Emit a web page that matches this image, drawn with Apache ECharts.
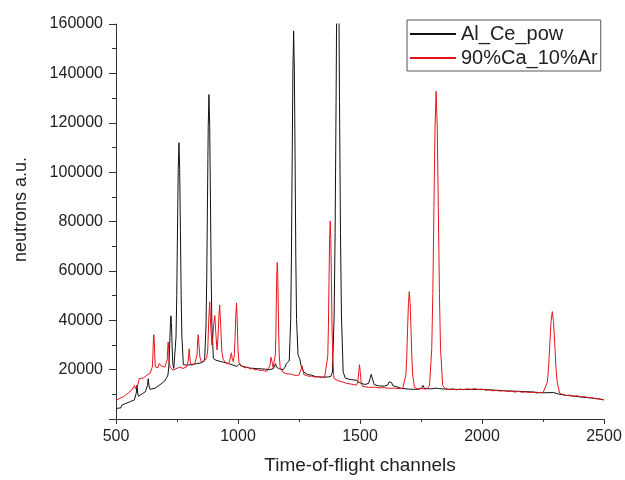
<!DOCTYPE html>
<html>
<head>
<meta charset="utf-8">
<script src="https://cdn.jsdelivr.net/npm/echarts@6/dist/echarts.min.js"></script>
<style>
html,body{margin:0;padding:0;background:#fff;}
#chart{width:625px;height:480px;}
</style>
</head>
<body>
<div id="chart"></div>
<script>
const seriesNames = ['Al_Ce_pow', '90%Ca_10%Ar'];
const xAxisTitle = 'Time-of-flight channels';
const yAxisTitle = 'neutrons a.u.';
const xRange = [500, 2500, 500];
const yRange = [0, 160000, 20000];

// [channel, counts]
const alCePow = [
[500,4200],[510,4400],[520,4500],[523,5600],[530,6000],[545,6500],[560,7100],[575,7700],[580,8400],[583,10500],[586,13800],[589,10500],[592,9200],[600,9700],[610,10400],[620,11000],[626,11500],[629,13500],[632,16300],[636,13000],[640,12000],[648,11700],[660,12500],[675,13500],[690,14600],[700,15400],[708,16800],[713,17800],
[717,22100],[719,26300],[721,32900],[723,39100],[725,41800],[727,39100],[729,32900],[731,26300],[733,22100],[737,20500],
[740,21000],[746,33300],[749,50100],[752,76500],[755,101000],[758,111900],[761,101000],[764,76500],[767,50100],[770,33300],[776,22000],
[790,21800],[810,22100],[830,22400],[850,22800],[863,23500],
[869,38100],[872,58000],[875,89400],[878,118500],[881,131400],[884,118500],[887,89400],[890,58000],[893,38100],[899,24500],
[910,23800],[925,23400],[940,23000],[960,22500],[980,21800],[995,21300],[1002,21800],[1007,22400],[1012,21500],[1020,21000],[1050,20600],[1080,20400],[1110,20200],[1130,20000],[1145,20400],[1150,21500],[1154,22400],[1158,21000],[1170,20300],[1185,20000],[1193,21000],[1198,22400],[1203,21800],
[1210,23500],[1216,40300],[1219,65300],[1222,104500],[1225,141000],[1228,157200],[1231,141000],[1234,104500],[1237,65300],[1240,40300],[1246,26000],[1253,24400],[1260,21000],[1270,19000],[1285,18000],[1293,18400],[1300,17800],[1320,17100],[1345,17000],[1365,17000],[1380,17200],
[1387,19000],[1394,41700],[1398,75600],[1402,128600],[1405,178000],[1409,200000],[1413,178000],[1416,128600],[1420,75600],[1424,41700],[1431,19000],[1440,16500],
[1460,16000],[1484,15700],[1500,14600],[1520,14000],[1535,14400],[1541,16300],[1546,18100],[1551,16300],[1558,14000],[1575,13400],[1600,13300],[1614,13800],[1619,15000],[1624,15700],[1629,14800],[1635,13500],[1648,13100],[1670,12400],[1700,12100],[1740,12000],[1752,12400],[1758,13600],[1764,12400],[1790,12200],[1812,12500],[1818,12700],[1825,12300],[1850,12100],[1900,12000],[1950,12000],[2000,12000],[2050,11700],[2100,11400],[2150,11200],[2200,11000],[2250,10600],[2278,10700],[2286,11100],[2294,10700],[2310,10200],[2343,9600],[2400,9000],[2450,8500],[2500,7800]
];

const caAr = [
[500,7600],[510,8000],[520,8600],[530,9000],[540,9700],[550,10500],[557,11000],[565,11800],[572,12600],[576,13600],[579,12300],[585,12300],[590,14000],[595,16300],[598,16300],[603,15500],[612,16600],[620,17200],[626,17700],[632,18200],[639,18400],[645,18700],
[649,21100],[650.5,23900],[652,28300],[653.5,32400],[655,34200],[656.5,32400],[658,28300],[659.5,23900],[661,21100],[666,20400],
[672,20800],[677,22500],[681,23000],[685,21500],[692,21000],[700,21000],[706,20800],[710,24000],[712,29000],[714,31200],[716,28000],[718,23000],[722,21000],[733,19800],[745,20300],[760,21000],[775,20500],[788,21000],[792,21200],[796,23500],[800,28400],[804,23500],[809,21700],[816,22000],[823,22300],[828,22200],[832,26000],[835,32000],[837,34100],[840,30000],[844,25000],[850,23100],[860,23600],[871,24400],
[876,28000],[880,40000],[884,47500],[888,38000],[893,30000],[897,33000],[901,39000],[905,41900],[909,35000],[914,28000],[918,33000],[922,42000],[925,46200],[929,38000],[934,27000],[940,24000],[950,22800],[960,22300],[966,23500],[970,25500],[973,26800],[976,24500],[981,23200],[985,26000],[988,33000],[991,42000],[994,47000],[997,39000],[1000,28000],[1004,23000],[1010,22000],
[1020,21200],[1030,20700],[1040,21000],[1050,20300],[1060,20500],[1070,19900],[1080,20100],[1090,19600],[1100,19800],[1110,19400],[1120,19500],[1128,19600],[1132,22000],[1135,25000],[1137,25700],[1140,23000],[1144,20800],[1149,20600],
[1153,25900],[1155,33900],[1157,46500],[1159,58200],[1161,63400],[1163,58200],[1165,46500],[1167,33900],[1169,25900],[1173,20800],
[1178,20400],[1185,18800],[1195,18500],[1205,18200],[1215,18300],[1225,17900],[1240,17600],[1250,17800],[1256,18500],[1260,20500],[1263,21500],[1266,20000],[1270,18000],[1280,17600],[1290,17300],[1300,17400],[1315,17000],[1330,17200],[1345,16800],[1355,17000],
[1363,17400],[1368,25500],[1370.5,37200],[1373,55600],[1375.5,72600],[1378,80200],[1380.5,72600],[1383,55600],[1385.5,37200],[1388,25500],[1393,16400],
[1400,15700],[1415,15300],[1430,15000],[1445,14400],[1460,14200],[1475,13900],[1485,13700],[1491,15000],[1495,19000],[1498,22000],[1501,19000],[1505,14500],[1511,13200],[1525,13000],[1540,12800],[1560,12900],[1580,12600],[1600,12700],[1620,12400],[1640,12500],[1660,12300],[1675,12400],
[1681,12900],[1688,17800],[1691.5,25000],[1695,36400],[1698.5,46900],[1702,51600],[1705.5,46900],[1709,36400],[1712.5,25000],[1716,17800],[1723,12900],
[1735,12200],[1750,12400],[1765,12100],[1775,12300],
[1785,13500],[1794,28500],[1798.5,50800],[1803,85700],[1807.5,118200],[1812,132700],[1816.5,118200],[1821,85700],[1825.5,50800],[1830,28500],[1839,13500],
[1850,12300],[1865,11900],[1880,12200],[1895,11800],[1910,12100],[1925,11900],[1940,12200],[1955,12000],[1970,12300],[1985,11900],[2000,12100],[2015,11700],[2030,11800],[2045,11400],[2060,11600],[2075,11300],[2090,11500],[2105,11100],[2120,11300],[2135,10900],[2150,11200],[2165,10800],[2180,11000],[2195,10700],[2210,10900],[2225,10500],[2240,10800],[2250,10600],
[2258,10900],[2268,15000],[2273,21100],[2278,30600],[2283,39500],[2288,43500],[2293,39500],[2298,30600],[2303,21100],[2308,15000],[2318,10500],
[2330,9900],[2345,9500],[2360,9700],[2375,9200],[2390,9400],[2405,8900],[2420,9100],[2435,8600],[2450,8700],[2465,8200],[2480,8300],[2490,7900],[2500,7700]
];

const chart = echarts.init(document.getElementById('chart'), null, {renderer: 'canvas'});
const FONT = 'Liberation Sans, Arial, sans-serif';
const plain = v => String(v);
chart.setOption({
  animation: false,
  backgroundColor: '#ffffff',
  textStyle: {fontFamily: FONT},
  grid: {left: 116, right: 21, top: 24, bottom: 60, containLabel: false},
  legend: {
    orient: 'vertical',
    left: 407, top: 20,
    data: seriesNames,
    itemWidth: 46, itemHeight: 12, itemGap: 4,
    padding: [4, 3, 3, 2],
    borderColor: '#555', borderWidth: 1,
    itemStyle: {opacity: 0},
    textStyle: {fontSize: 20, color: '#222', fontFamily: FONT}
  },
  xAxis: {
    type: 'value',
    min: xRange[0], max: xRange[1], interval: xRange[2],
    name: xAxisTitle, nameLocation: 'middle', nameGap: 37,
    nameTextStyle: {fontSize: 19, color: '#222', fontFamily: FONT},
    axisLine: {show: true, onZero: false, lineStyle: {color: '#333', width: 1}},
    axisTick: {show: true, inside: false, length: 5, lineStyle: {color: '#333'}},
    minorTick: {show: true, splitNumber: 2, length: 3, lineStyle: {color: '#333'}},
    axisLabel: {fontSize: 16, color: '#222', margin: 10, fontFamily: FONT, formatter: plain},
    splitLine: {show: false}
  },
  yAxis: {
    type: 'value',
    min: yRange[0], max: yRange[1], interval: yRange[2],
    name: yAxisTitle, nameLocation: 'middle', nameGap: 86,
    nameTextStyle: {fontSize: 18, color: '#222', fontFamily: FONT, padding: [0, 0, 0, 24]},
    axisLine: {show: true, onZero: false, lineStyle: {color: '#333', width: 1}},
    axisTick: {show: true, inside: false, length: 7, lineStyle: {color: '#333'}},
    minorTick: {show: true, splitNumber: 2, length: 4, lineStyle: {color: '#333'}},
    axisLabel: {fontSize: 16, color: '#222', margin: 13, showMinLabel: false, fontFamily: FONT, formatter: plain},
    splitLine: {show: false}
  },
  series: [
    {name: seriesNames[0], type: 'line', data: alCePow, symbol: 'none', clip: true,
     lineStyle: {color: '#111111', width: 1}, itemStyle: {color: '#111111'}},
    {name: seriesNames[1], type: 'line', data: caAr, symbol: 'none', clip: true,
     lineStyle: {color: '#e8141c', width: 1}, itemStyle: {color: '#e8141c'}}
  ]
});
</script>
</body>
</html>
